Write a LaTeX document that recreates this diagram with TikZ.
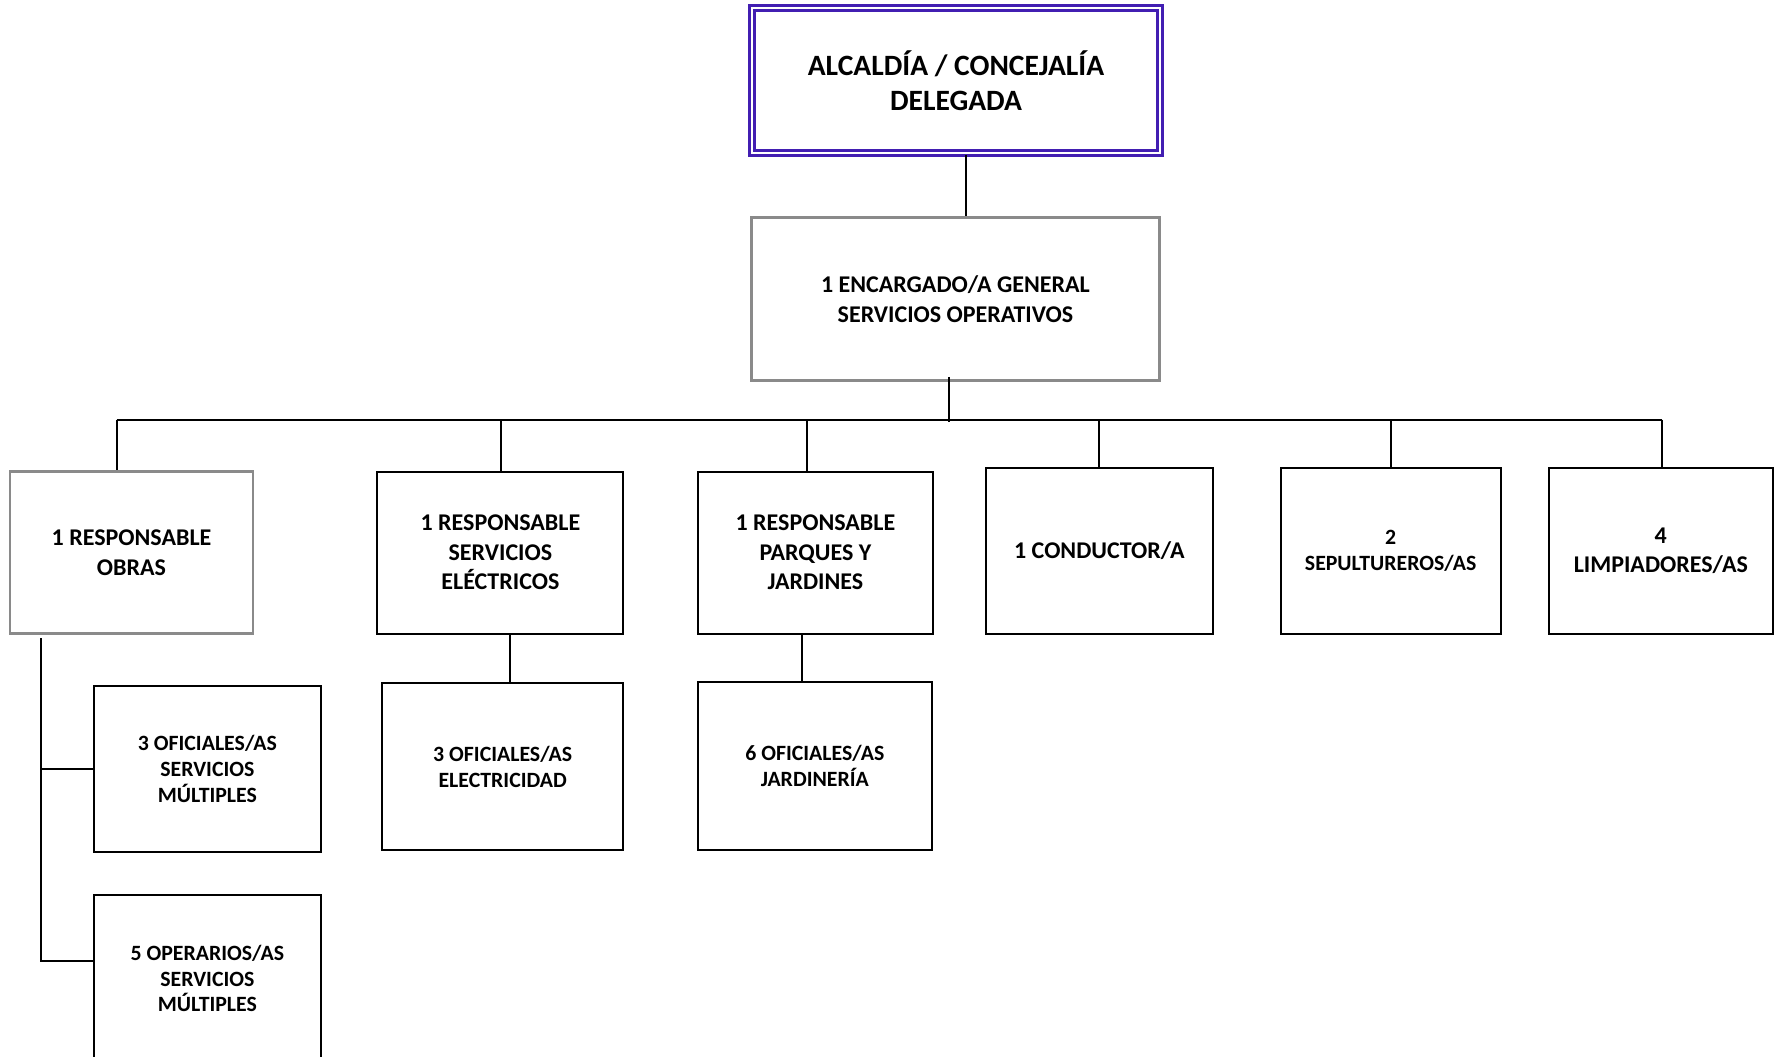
\documentclass[tikz,border=0pt]{standalone}
\usepackage{fontspec}
\setmainfont{Carlito}
\definecolor{topviolet}{RGB}{66,30,178}
\definecolor{boxgray}{RGB}{138,138,138}
\begin{document}
\begin{tikzpicture}[x=0.5pt,y=-0.5pt,
  box/.style={draw=black, line width=1pt, inner sep=0pt, align=center,
    font=\fontsize{12}{14.75}\selectfont\bfseries},
  graybox/.style={box, draw=boxgray, line width=1.2pt},
  smalltext/.style={font=\fontsize{10.9}{12.9}\selectfont\bfseries},
  link/.style={line width=1pt, draw=black}]
\useasboundingbox (0,0) rectangle (1777,1056);
\clip (0,0) rectangle (1777,1056);

% top of the hierarchy
\node[box, draw=topviolet, double=white, double distance=1pt, line width=1.5pt,
  minimum width=204pt, minimum height=72.5pt,
  font=\fontsize{14.75}{17.5}\selectfont\bfseries] (top) at (956,80.5)
  {ALCALDÍA / CONCEJALÍA\\DELEGADA};

\node[graybox, minimum width=204pt, minimum height=81.5pt] (enc) at (955.4,299)
  {1 ENCARGADO/A GENERAL\\SERVICIOS OPERATIVOS};

% first level of responsibility
\node[graybox, minimum width=121.25pt, minimum height=81pt] (obras) at (131.5,552.5)
  {1 RESPONSABLE\\OBRAS};
\node[box, minimum width=123pt, minimum height=81pt] (elec) at (500.4,552.5)
  {1 RESPONSABLE\\SERVICIOS\\ELÉCTRICOS};
\node[box, minimum width=117.35pt, minimum height=81pt] (parq) at (815.4,552.5)
  {1 RESPONSABLE\\PARQUES Y\\JARDINES};
\node[box, minimum width=113.35pt, minimum height=82.75pt] (cond) at (1099.4,550.8)
  {1 CONDUCTOR/A};
\node[box, smalltext, minimum width=109.9pt, minimum height=82.75pt] (sep) at (1390.6,550.8)
  {2\\SEPULTUREROS/AS};
\node[box, minimum width=111.75pt, minimum height=82.75pt] (limp) at (1660.8,550.8)
  {4\\LIMPIADORES/AS};

% staff under each responsible
\node[box, smalltext, minimum width=113.35pt, minimum height=83.3pt] (ofm) at (207.4,769)
  {3 OFICIALES/AS\\SERVICIOS\\MÚLTIPLES};
\node[box, smalltext, minimum width=113.35pt, minimum height=83.3pt] (opm) at (207.4,978.6)
  {5 OPERARIOS/AS\\SERVICIOS\\MÚLTIPLES};
\node[box, smalltext, minimum width=120.65pt, minimum height=83.3pt] (ofe) at (502.7,766.7)
  {3 OFICIALES/AS\\ELECTRICIDAD};
\node[box, smalltext, minimum width=116.8pt, minimum height=83.85pt] (ofj) at (814.8,766.2)
  {6 OFICIALES/AS\\JARDINERÍA};

% reference points for the connectors
\coordinate (c1) at (965.6,0);
\coordinate (c2) at (948.6,0);
\coordinate (busL) at (116.7,419.5);
\coordinate (busR) at (1661.5,419.5);
\coordinate (dparq) at (807,0);
\coordinate (delec) at (501,0);
\coordinate (ce) at (510,0);
\coordinate (cj) at (802.4,0);
\coordinate (sp1) at (40.8,638);
\coordinate (sp2) at (40.8,961);

% connectors
\draw[link] (top.south -| c1) -- (enc.north -| c1);
\draw[link] ([yshift=2.4pt]enc.south -| c2) -- ([yshift=-1pt]busL -| c2);
\draw[link] (busL) -- (busR);
\draw[link] (busL) -- (obras.north -| busL);
\draw[link] (busL -| delec) -- (elec.north -| delec);
\draw[link] (busL -| dparq) -- (parq.north -| dparq);
\draw[link] (busL -| cond.north) -- (cond.north);
\draw[link] (busL -| sep.north) -- (sep.north);
\draw[link] (busR) -- (limp.north -| busR);
\draw[link] (elec.south -| ce) -- (ofe.north -| ce);
\draw[link] (parq.south -| cj) -- (ofj.north -| cj);
\draw[link] (sp1) -- (sp2) -- (sp2 -| opm.west);
\draw[link] (sp1 |- ofm.west) -- (ofm.west);
\end{tikzpicture}
\end{document}
